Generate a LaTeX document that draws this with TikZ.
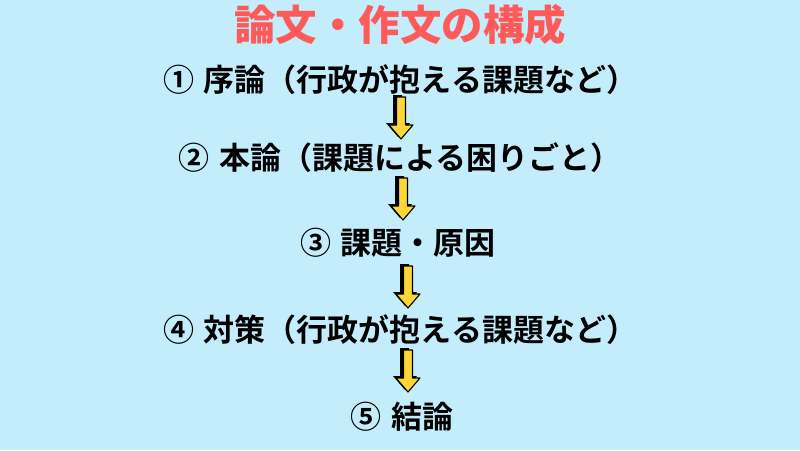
\documentclass[tikz,border=0pt]{standalone}
\usepackage{fontspec}
\newfontfamily\cjk{Noto Sans CJK JP Bold}
\newfontfamily\cjkblack{Noto Sans CJK JP Black}
\definecolor{bg}{HTML}{C4EDFC}
\definecolor{ttl}{HTML}{FF5A5A}
\definecolor{arr}{HTML}{FFD63A}
\begin{document}
\begin{tikzpicture}[x=1pt,y=-1pt,
  titlestyle/.style={font=\cjkblack\fontsize{41.5}{41.5}\selectfont, text=ttl, inner sep=0pt},
  linestyle/.style={font=\cjk\fontsize{31}{31}\selectfont, text=black, inner sep=0pt},
  pics/darrow/.style={code={
    \fill[black] (-8,-2) -- (1,-2) -- (1,26) -- (9,26) -- (-3,40) -- (-15,26) -- (-8,26) -- cycle;
    \draw[fill=arr, line width=1.1pt, line join=round] (-4.5,0) -- (4.5,0) -- (4.5,28) -- (12,28) -- (0,42) -- (-12,28) -- (-4.5,28) -- cycle;
  }}]
\useasboundingbox (0,0) rectangle (800,450);
\fill[bg] (0,0) rectangle (800,450);
\node[titlestyle] (title) at (400,25) {論文・作文の構成};
\node[linestyle] (l1) at (400,80) {①\hspace{0.32em}序論（行政が抱える課題など）};
\node[linestyle] (l2) at (400,158) {②\hspace{0.32em}本論（課題による困りごと）};
\node[linestyle] (l3) at (398,243) {③\hspace{0.32em}課題・原因};
\node[linestyle] (l4) at (400,330) {④\hspace{0.32em}対策（行政が抱える課題など）};
\node[linestyle] (l5) at (402,417) {⑤\hspace{0.32em}結論};
\pic at (401,97) {darrow};
\pic at (403,178) {darrow};
\pic at (408,266) {darrow};
\pic at (408,350) {darrow};
\end{tikzpicture}
\end{document}
